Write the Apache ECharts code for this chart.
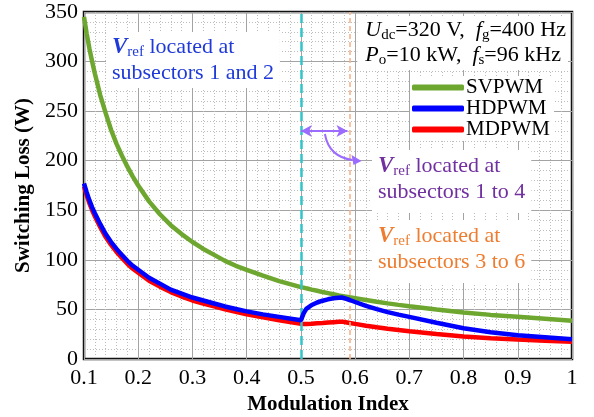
<!DOCTYPE html>
<html>
<head>
<meta charset="utf-8">
<script src="https://cdn.jsdelivr.net/npm/echarts@6/dist/echarts.min.js"></script>
<style>
  html, body { margin: 0; padding: 0; background: #fff; }
  #chart { width: 594px; height: 417px; }
</style>
</head>
<body>
<div id="chart"></div>
<script>
// Modulation index samples shared by all three loss curves
const modIndex = [
  0.10, 0.105, 0.11, 0.115, 0.12,
  0.13, 0.14, 0.15, 0.16, 0.17, 0.18, 0.19, 0.20,
  0.22, 0.24, 0.26, 0.28, 0.30, 0.32, 0.34, 0.36, 0.38, 0.40,
  0.43, 0.46, 0.50,
  0.505, 0.51, 0.52, 0.53, 0.54, 0.55, 0.56, 0.57, 0.575, 0.58, 0.59, 0.60,
  0.62, 0.64, 0.66, 0.68, 0.70,
  0.75, 0.80, 0.85, 0.90, 0.95, 1.00
];

// Switching loss (W)
const lossSVPWM = [
  345, 328, 313, 300, 288,
  266, 248, 231, 217, 205, 194, 184, 175,
  159, 146, 135, 126, 118, 111, 105, 99, 94, 90,
  84, 78.5, 72.5,
  72, 71.3, 70, 68.8, 67.5, 66.4, 65.3, 64.2, 63.7, 63.2, 62.2, 61.3,
  59.5, 57.7, 56.1, 54.6, 53.2,
  50, 47, 44.5, 42.5, 40.5, 38.5
];
const lossHDPWM = [
  177, 168, 160, 153, 147,
  136, 126, 118, 111, 105, 99, 94, 90,
  82, 76, 70, 66, 62, 59, 56, 53, 50.5, 48,
  45, 42.5, 39,
  46, 50.5, 54.5, 57, 58.8, 60.2, 61.2, 61.8, 62, 61.3, 59.5, 57.5,
  53.5, 50.3, 47.3, 44.8, 42.5,
  36.5, 31, 27, 24, 22, 20
];
const lossMDPWM = [
  174, 165, 157, 150, 144,
  133, 123, 115, 108, 102, 96, 91, 87,
  79, 73, 67.5, 63, 59, 56, 53, 50, 47.5, 45,
  42, 39, 35.5,
  35.3, 35.3, 35.6, 36, 36.3, 36.7, 37.1, 37.5, 37.7, 37.4, 36.4, 35.4,
  33.6, 32, 30.6, 29.3, 28,
  25.3, 22.8, 21, 19.6, 18.5, 17.5
];

// Subsector boundaries marked on the chart
const boundaryLow = 0.5;
const boundaryHigh = 0.586;
const arrowLevel = 230;

const seriesNames = ['SVPWM', 'HDPWM', 'MDPWM'];
const yTicks = { min: 0, max: 350, step: 50 };
const xTicks = { min: 0.1, max: 1, step: 0.1 };

const FAMILY = "'Liberation Serif', 'Times New Roman', serif";
const C_GREEN = '#6ea72f';
const C_BLUE = '#0000ff';
const C_RED = '#ff0000';
const C_TXT_BLUE = '#1f3ad8';
const C_PURPLE = '#7030a0';
const C_ARROW = '#9b6cff';
const C_ORANGE = '#ed7d31';

const pair = (xs, ys) => xs.map((x, i) => [x, ys[i]]);
const font = (size, extra) => (extra ? extra + ' ' : '') + size + 'px ' + FAMILY;

const chart = echarts.init(document.getElementById('chart'), null, { renderer: 'canvas' });

chart.setOption({
  animation: false,
  backgroundColor: '#fff',
  grid: {
    left: 84, right: 22, top: 12, bottom: 58,
    outerBoundsMode: 'none', containLabel: false,
    show: true, borderColor: '#111', borderWidth: 2.5, backgroundColor: 'transparent'
  },
  legend: {
    data: seriesNames,
    orient: 'vertical',
    left: 410, top: 76,
    itemWidth: 52, itemHeight: 6, itemGap: 0,
    icon: 'roundRect',
    backgroundColor: '#fff',
    padding: [1, 4, 1, 2],
    textStyle: { fontFamily: FAMILY, fontSize: 21, color: '#000', lineHeight: 19, padding: [0, 0, 0, -3] }
  },
  xAxis: {
    type: 'value',
    min: xTicks.min, max: xTicks.max, interval: xTicks.step,
    name: 'Modulation Index',
    nameLocation: 'middle', nameGap: 32,
    nameTextStyle: { fontFamily: FAMILY, fontSize: 21, fontWeight: 'bold', color: '#000' },
    axisLine: { show: false },
    axisTick: { show: false },
    axisLabel: {
      fontFamily: FAMILY, fontSize: 22, color: '#000', margin: 8,
      formatter: v => String(Math.round(v * 10) / 10)
    },
    splitLine: { show: true, lineStyle: { color: '#a3a3a3', width: 1 } },
    minorTick: { show: false, splitNumber: 5 },
    minorSplitLine: { show: true, lineStyle: { color: '#bdbdbd', width: 1, type: [1, 2] } }
  },
  yAxis: {
    type: 'value',
    min: yTicks.min, max: yTicks.max, interval: yTicks.step,
    name: 'Switching Loss (W)',
    nameLocation: 'middle', nameGap: 44,
    nameTextStyle: { fontFamily: FAMILY, fontSize: 21, fontWeight: 'bold', color: '#000' },
    axisLine: { show: false },
    axisTick: { show: false },
    axisLabel: { fontFamily: FAMILY, fontSize: 22, color: '#000', margin: 6 },
    splitLine: { show: true, lineStyle: { color: '#a3a3a3', width: 1 } },
    minorTick: { show: false, splitNumber: 5 },
    minorSplitLine: { show: true, lineStyle: { color: '#bdbdbd', width: 1, type: [1, 2] } }
  },
  series: [
    {
      name: 'SVPWM', type: 'line', data: pair(modIndex, lossSVPWM),
      showSymbol: false, color: C_GREEN,
      lineStyle: { width: 4.5, color: C_GREEN }, z: 3,
      markLine: {
        silent: true, symbol: 'none', label: { show: false },
        data: [
          { xAxis: boundaryLow, lineStyle: { color: '#33c4c8', width: 2.5, type: [9, 5] } },
          { xAxis: boundaryHigh, lineStyle: { color: '#f6b48a', width: 1.6, type: [5, 3] } }
        ]
      }
    },
    {
      name: 'MDPWM', type: 'line', data: pair(modIndex, lossMDPWM),
      showSymbol: false, color: C_RED,
      lineStyle: { width: 4.5, color: C_RED }, z: 4
    },
    {
      name: 'HDPWM', type: 'line', data: pair(modIndex, lossHDPWM),
      showSymbol: false, color: C_BLUE,
      lineStyle: { width: 4.5, color: C_BLUE }, z: 5,
      markLine: {
        silent: true, symbol: ['arrow', 'arrow'], symbolSize: [9, 11], label: { show: false },
        lineStyle: { color: C_ARROW, width: 2, type: 'solid' },
        data: [[{ coord: [boundaryLow, arrowLevel] }, { coord: [boundaryHigh, arrowLevel] }]]
      }
    }
  ]
});

// Annotation texts and the curved pointer
const vref = (col) => ({
  v: { fill: col, font: font(23, 'italic bold'), lineHeight: 26 },
  s: { fill: col, font: font(15), lineHeight: 13, verticalAlign: 'bottom' },
  t: { fill: col, font: font(22), lineHeight: 26 }
});
const cond = {
  i: { fill: '#000', font: font(22, 'italic'), lineHeight: 25 },
  s: { fill: '#000', font: font(15), lineHeight: 12, verticalAlign: 'bottom' },
  t: { fill: '#000', font: font(22), lineHeight: 25 }
};

const pA = chart.convertToPixel({ gridIndex: 0 }, [boundaryLow, arrowLevel]);
const pB = chart.convertToPixel({ gridIndex: 0 }, [boundaryHigh, arrowLevel]);
const sx = pA[0] + 24, sy = pA[1] + 3;
const ex = pB[0] + 7, ey = pA[1] + 29;

chart.setOption({
  graphic: [
    {
      type: 'text', left: 106, top: 32, z: 10,
      style: {
        text: '{v|V}{s|ref}{t| located at}\n{t|subsectors 1 and 2}',
        rich: vref(C_TXT_BLUE), backgroundColor: '#fff', padding: [2, 6, 2, 6]
      }
    },
    {
      type: 'text', right: 26, top: 16, z: 10,
      style: {
        text: '{i|U}{s|dc}{t|=320 V,  }{i|f}{s|g}{t|=400 Hz}\n{i|P}{s|o}{t|=10 kW,  }{i|f}{s|s}{t|=96 kHz}',
        rich: cond, align: 'right', backgroundColor: '#fff', padding: [2, 2, 2, 8]
      }
    },
    {
      type: 'text', left: 372, top: 150, z: 10,
      style: {
        text: '{v|V}{s|ref}{t| located at}\n{t|subsectors 1 to 4}',
        rich: vref(C_PURPLE), backgroundColor: '#fff', padding: [3, 6, 8, 6]
      }
    },
    {
      type: 'text', left: 372, top: 220, z: 10,
      style: {
        text: '{v|V}{s|ref}{t| located at}\n{t|subsectors 3 to 6}',
        rich: vref(C_ORANGE), backgroundColor: '#fff', padding: [3, 6, 8, 6]
      }
    },
    {
      type: 'bezierCurve', z: 10, silent: true,
      shape: { x1: sx, y1: sy, cpx1: sx + 3, cpy1: sy + 17, cpx2: sx + 13, cpy2: ey - 2, x2: ex - 2, y2: ey },
      style: { stroke: C_ARROW, lineWidth: 2, fill: null }
    },
    {
      type: 'polygon', z: 10, silent: true,
      shape: { points: [[ex + 7, ey + 1], [ex - 3, ey - 5], [ex - 1, ey + 5]] },
      style: { fill: C_ARROW }
    }
  ]
});
</script>
</body>
</html>
